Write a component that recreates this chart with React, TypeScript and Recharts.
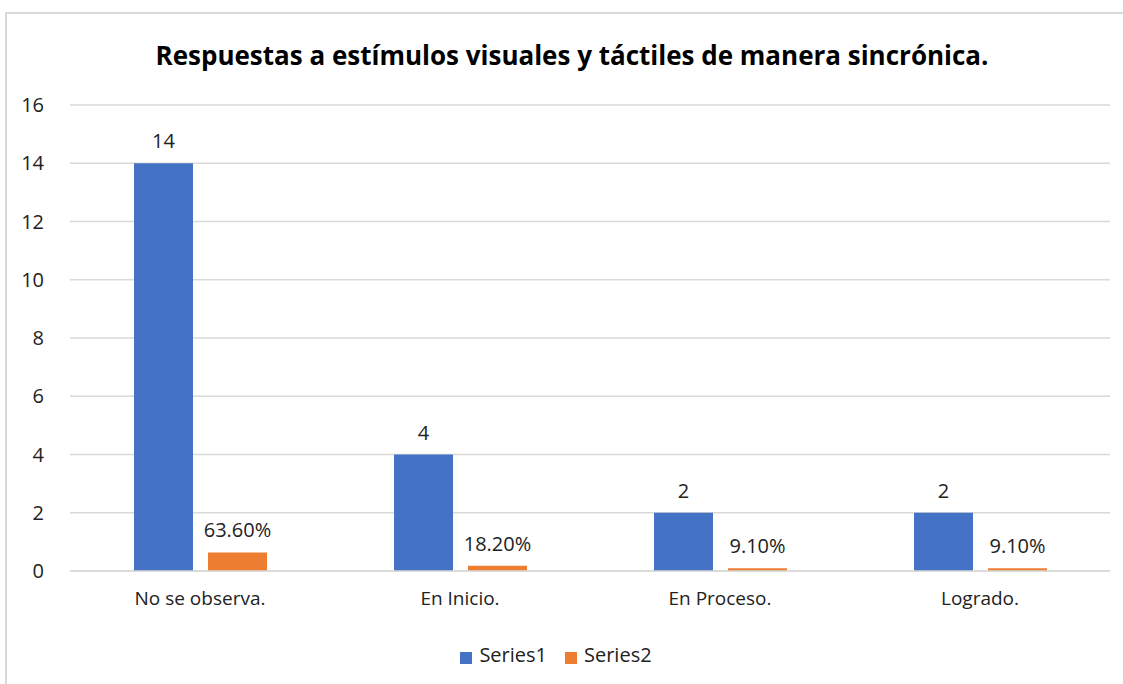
import React from 'react';
import { BarChart, Bar, XAxis, YAxis, CartesianGrid, Legend, LabelList } from 'recharts';

// Datos
const categories = ['No se observa.', 'En Inicio.', 'En Proceso.', 'Logrado.'];
const series1 = [14, 4, 2, 2];
const series2 = [0.636, 0.182, 0.091, 0.091];
const yTicks = [0, 2, 4, 6, 8, 10, 12, 14, 16];

const data = categories.map((name, i) => ({
  name,
  Series1: series1[i],
  Series2: series2[i],
}));

const FONT = '"Open Sans", sans-serif';
const BLUE = '#4472C4';
const ORANGE = '#ED7D31';
const TXT = '#222';

export default function App() {
  return (
    <div style={{ position: 'absolute', left: 0, top: 0, width: 1123, height: 684, overflow: 'hidden', background: '#fff', fontFamily: FONT }}>
      {/* marco del gráfico */}
      <div style={{ position: 'absolute', left: 5, top: 12, width: 1200, height: 800, borderLeft: '2px solid #d9d9d9', borderTop: '2px solid #d9d9d9' }} />
      <div style={{ position: 'absolute', left: 0, top: 37, width: 1144, textAlign: 'center', fontSize: 26, fontWeight: 700, color: '#000', whiteSpace: 'nowrap' }}>
        Respuestas a estímulos visuales y táctiles de manera sincrónica.
      </div>
      <div style={{ position: 'absolute', left: 0, top: 0 }}>
        <BarChart
          width={1123}
          height={684}
          data={data}
          margin={{ top: 105, right: 13, bottom: 13, left: 20 }}
          barCategoryGap={63}
          barGap={15}
        >
          <CartesianGrid vertical={false} stroke="#d9d9d9" strokeWidth={1.5} />
          <XAxis
            dataKey="name"
            height={70}
            tickLine={false}
            axisLine={{ stroke: '#d9d9d9', strokeWidth: 1.5 }}
            tick={{ fill: TXT, fontSize: 19, fontFamily: FONT }}
            tickMargin={15}
          />
          <YAxis
            width={50}
            domain={[0, 16]}
            ticks={yTicks}
            tickLine={false}
            axisLine={false}
            tick={{ fill: TXT, fontSize: 20, fontFamily: FONT }}
            tickMargin={20}
          />
          <Legend
            verticalAlign="bottom"
            height={30}
            iconType="square"
            iconSize={12}
            formatter={(v) => (
              <span style={{ color: TXT, fontSize: 20, fontFamily: FONT, paddingLeft: 3, paddingRight: 8 }}>{v}</span>
            )}
          />
          <Bar dataKey="Series1" fill={BLUE} barSize={59} isAnimationActive={false}>
            <LabelList dataKey="Series1" position="top" offset={15} style={{ fill: TXT, fontSize: 20, fontFamily: FONT }} />
          </Bar>
          <Bar dataKey="Series2" fill={ORANGE} barSize={59} isAnimationActive={false}>
            <LabelList
              dataKey="Series2"
              position="top"
              offset={15}
              formatter={(v: number) => (v * 100).toFixed(2) + '%'}
              style={{ fill: TXT, fontSize: 20, fontFamily: FONT }}
            />
          </Bar>
        </BarChart>
      </div>
    </div>
  );
}
